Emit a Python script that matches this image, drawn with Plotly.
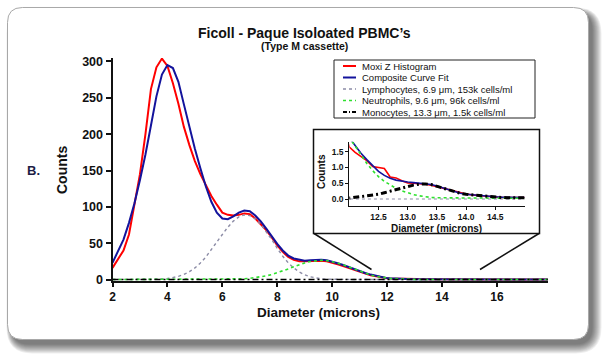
import plotly.graph_objects as go

W, H = 610, 360
FONT = "Liberation Sans, Arial, sans-serif"

# ---------------- data ----------------
diameter = [2.0, 2.2, 2.4, 2.6, 2.8, 3.0, 3.2, 3.4, 3.6, 3.8,
            4.0, 4.2, 4.4, 4.6, 4.8, 5.0, 5.2, 5.4, 5.6, 5.8,
            6.0, 6.2, 6.4, 6.6, 6.8, 7.0, 7.2, 7.4, 7.6, 7.8,
            8.0, 8.2, 8.4, 8.6, 8.8, 9.0, 9.2, 9.4, 9.6, 9.8,
            10.0, 10.2, 10.4, 10.6, 10.8, 11.0, 11.2, 11.4, 11.6, 11.8,
            12.0,
            12.1, 12.2, 12.3, 12.4, 12.5, 12.6, 12.7, 12.8, 12.9, 13.0,
            13.1, 13.2, 13.3, 13.4, 13.5, 13.6, 13.7, 13.8, 13.9, 14.0,
            14.1, 14.2, 14.3, 14.4, 14.5, 14.6, 14.7, 14.8, 14.9, 15.0,
            15.5, 16.0, 16.5, 17.0, 17.5, 17.85]

moxi_histogram = [16, 28, 40, 62, 105, 145, 200, 262, 292, 304,
                  294, 270, 242, 210, 185, 163, 145, 129, 115, 103,
                  92, 89, 88, 89, 91, 90, 84, 76, 68, 58,
                  47, 38, 31, 27, 25, 25, 25.5, 26, 26, 25,
                  23.5, 21, 18.5, 16, 13, 10, 8, 6, 4.5, 2.8,
                  1.65,
                  1.48, 1.34, 1.22, 1.03, 0.99, 0.97, 0.70, 0.67, 0.58, 0.51,
                  0.50, 0.49, 0.47, 0.44, 0.39, 0.34, 0.29, 0.24, 0.19, 0.16,
                  0.13, 0.11, 0.09, 0.07, 0.06, 0.05, 0.05, 0.04, 0.04, 0.04,
                  0.03, 0.02, 0.02, 0.01, 0.01, 0.01]

composite_fit = [23, 38, 55, 78, 105, 137, 172, 212, 252, 282,
                 295, 291, 272, 241, 210, 180, 153, 128, 107, 92,
                 84, 83, 87, 92, 95, 94, 88, 80, 70, 59,
                 49, 40, 33, 29, 27, 26, 26.5, 27, 27.3, 26.5,
                 25, 22.5, 20, 17, 14, 11.4, 9, 6.8, 5, 3.3,
                 1.95,
                 1.70, 1.45, 1.25, 1.06, 0.88, 0.75, 0.66, 0.60, 0.56, 0.54,
                 0.52, 0.50, 0.48, 0.46, 0.41, 0.35, 0.29, 0.23, 0.18, 0.15,
                 0.13, 0.11, 0.10, 0.08, 0.07, 0.06, 0.05, 0.05, 0.04, 0.04,
                 0.03, 0.02, 0.01, 0.01, 0.01, 0.01]

lymphocytes = [0, 0, 0, 0, 0, 0, 0.05, 0.1, 0.3, 0.7,
               1.4, 2.5, 4.3, 7, 10.8, 16, 22.8, 31, 40.8, 51.3,
               62, 72, 80.4, 86.2, 88.9, 88, 83.5, 76, 66, 55,
               43, 32, 23, 16, 10.5, 6.5, 3.8, 2.0, 1.0, 0.5,
               0.25, 0.1, 0.05, 0.02, 0.01, 0, 0, 0, 0, 0,
               0,
               0, 0, 0, 0, 0, 0, 0, 0, 0, 0,
               0, 0, 0, 0, 0, 0, 0, 0, 0, 0,
               0, 0, 0, 0, 0, 0, 0, 0, 0, 0,
               0, 0, 0, 0, 0, 0]

neutrophils = [0, 0, 0, 0, 0, 0, 0, 0, 0, 0,
               0, 0, 0, 0, 0, 0, 0, 0.05, 0.1, 0.15,
               0.2, 0.3, 0.4, 0.64, 1.0, 1.6, 2.5, 3.6, 5.1, 6.9,
               9.2, 11.8, 14.6, 17.5, 20.3, 22.8, 24.8, 26.1, 26.5, 26.1,
               24.8, 22.8, 20.3, 17.5, 14.6, 11.4, 8.7, 6.3, 4.4, 3.0,
               1.95,
               1.68, 1.40, 1.13, 0.90, 0.71, 0.56, 0.44, 0.34, 0.26, 0.19,
               0.14, 0.10, 0.07, 0.05, 0.04, 0.035, 0.03, 0.03, 0.03, 0.03,
               0.03, 0.03, 0.03, 0.03, 0.03, 0.03, 0.03, 0.03, 0.03, 0.03,
               0.02, 0.01, 0.01, 0, 0, 0]

monocytes = [0, 0, 0, 0, 0, 0, 0, 0, 0, 0,
             0, 0, 0, 0, 0, 0, 0, 0, 0, 0,
             0, 0, 0, 0, 0, 0, 0, 0, 0, 0,
             0, 0, 0, 0, 0, 0, 0, 0, 0, 0,
             0, 0, 0, 0, 0, 0.002, 0.004, 0.007, 0.012, 0.02,
             0.03,
             0.05, 0.07, 0.09, 0.12, 0.15, 0.20, 0.25, 0.30, 0.35, 0.40,
             0.44, 0.47, 0.48, 0.46, 0.40, 0.34, 0.29, 0.23, 0.18, 0.15,
             0.13, 0.11, 0.09, 0.07, 0.06, 0.05, 0.04, 0.035, 0.03, 0.03,
             0.01, 0.005, 0, 0, 0, 0]

legend_labels = ["Moxi Z Histogram",
                 "Composite Curve Fit",
                 "Lymphocytes, 6.9 \u03bcm, 153k cells/ml",
                 "Neutrophils, 9.6 \u03bcm, 96k cells/ml",
                 "Monocytes, 13.3 \u03bcm, 1.5k cells/ml"]

main_xticks = [2, 4, 6, 8, 10, 12, 14, 16]
main_yticks = [0, 50, 100, 150, 200, 250, 300]
inset_xticks = [12.5, 13.0, 13.5, 14.0, 14.5]
inset_yticks = [0.0, 0.5, 1.0, 1.5]

# ---------------- styles ----------------
RED = "#ff0000"
BLUE = "#13139c"
GRAY = "#8c8ca6"
GREEN = "#2ee02e"
BLACK = "#000000"

series = [
    (moxi_histogram, RED, "solid", 2.0, 1.6),
    (composite_fit, BLUE, "solid", 2.0, 1.6),
    (lymphocytes, GRAY, "3px,3px", 1.4, 1.2),
    (neutrophils, GREEN, "dot", 1.6, 1.6),
    (monocytes, BLACK, "6px,3px,2px,3px", 1.4, 3.0),
]


def fx(px):
    return px / W


def fy(py):
    return 1 - py / H


fig = go.Figure()
for (vals, col, dash, wmain, winset), name in zip(series, legend_labels):
    fig.add_trace(go.Scatter(x=diameter, y=vals, mode="lines", name=name,
                             line=dict(color=col, dash=dash, width=wmain),
                             xaxis="x", yaxis="y", showlegend=False,
                             hoverinfo="skip"))
for (vals, col, dash, wmain, winset), name in zip(series, legend_labels):
    fig.add_trace(go.Scatter(x=diameter, y=vals, mode="lines", name=name,
                             line=dict(color=col, dash=dash, width=winset),
                             xaxis="x2", yaxis="y2", showlegend=False,
                             hoverinfo="skip"))

# ---------------- shapes ----------------
shapes = []


def rrect_path(x0, y0, x1, y1, r):
    pts = [
        ("M", [(x0 + r, y0)]),
        ("L", [(x1 - r, y0)]),
        ("Q", [(x1, y0), (x1, y0 + r)]),
        ("L", [(x1, y1 - r)]),
        ("Q", [(x1, y1), (x1 - r, y1)]),
        ("L", [(x0 + r, y1)]),
        ("Q", [(x0, y1), (x0, y1 - r)]),
        ("L", [(x0, y0 + r)]),
        ("Q", [(x0, y0), (x0 + r, y0)]),
    ]
    s = ""
    for cmd, ps in pts:
        s += cmd + " " + " ".join(f"{fx(a):.5f},{fy(b):.5f}" for a, b in ps) + " "
    return s + "Z"


# drop shadow (layered soft rectangles)
for i in range(10):
    sp = 10 - i
    shapes.append(dict(type="path", xref="paper", yref="paper", layer="below",
                       path=rrect_path(7.5 + 5 - sp * 0.6, 7.5 + 6 - sp * 0.6,
                                       588.5 + 3 + sp, 339.5 + 4 + sp, 16 + sp),
                       fillcolor="rgba(0,0,0,0.065)", line=dict(width=0)))
# card
shapes.append(dict(type="path", xref="paper", yref="paper", layer="below",
                   path=rrect_path(7.5, 7.5, 588.5, 339.5, 15),
                   fillcolor="white", line=dict(color="#a8a8a8", width=1)))

# legend box
shapes.append(dict(type="rect", xref="paper", yref="paper", layer="below",
                   x0=fx(334), x1=fx(535), y0=fy(118), y1=fy(60),
                   fillcolor="white", line=dict(color="#222222", width=1)))
legend_rows = [66, 77.5, 89, 100.5, 112]
for (vals, col, dash, wmain, winset), row in zip(series, legend_rows):
    shapes.append(dict(type="line", xref="paper", yref="paper", layer="above",
                       x0=fx(343), x1=fx(356), y0=fy(row), y1=fy(row),
                       line=dict(color=col, dash=dash if dash != "6px,3px,2px,3px" else "4px,2px,1px,2px",
                                 width=2 if col in (RED, BLUE, BLACK) else 1.3)))

# inset box
shapes.append(dict(type="rect", xref="paper", yref="paper", layer="below",
                   x0=fx(313.5), x1=fx(539.5), y0=fy(233.5), y1=fy(129.5),
                   fillcolor="white", line=dict(color="#111111", width=1.5)))
# callout lines
shapes.append(dict(type="line", xref="paper", yref="paper", layer="above",
                   x0=fx(314), y0=fy(233.5), x1=fx(371.5), y1=fy(269.5),
                   line=dict(color="#111111", width=1.5)))
shapes.append(dict(type="line", xref="paper", yref="paper", layer="above",
                   x0=fx(539), y0=fy(233.5), x1=fx(480), y1=fy(269.5),
                   line=dict(color="#111111", width=1.5)))

# ---------------- annotations ----------------
ann = []


def text(px, py, s, size, bold=True, rot=0, xanchor="center", color="#111111"):
    ann.append(dict(x=fx(px), y=fy(py), xref="paper", yref="paper", text=s,
                    showarrow=False, textangle=rot, xanchor=xanchor, yanchor="middle",
                    font=dict(family=FONT, size=size, color=color,
                              weight="bold" if bold else "normal")))


text(304, 33, "Ficoll - Paque Isoloated PBMC\u2019s", 14)
text(304, 46.5, "(Type M cassette)", 10.5)
text(318, 312, "Diameter (microns)", 13.5)
text(62, 170, "Counts", 14, rot=-90)
text(33, 170, "B.", 13, color="#1c1c44")
text(321, 172, "Counts", 10, rot=-90)
text(436, 228, "Diameter (microns)", 10)
for lab, row in zip(legend_labels, legend_rows):
    text(360, row, lab, 9.5, bold=False, xanchor="left")

# ---------------- layout ----------------
axis_common = dict(showgrid=False, zeroline=False, showline=True, linecolor="#111111",
                   ticks="outside", tickcolor="#111111", mirror=False, automargin=False)

fig.update_layout(
    template="none",
    width=W, height=H,
    margin=dict(l=0, r=0, t=0, b=0, pad=0),
    paper_bgcolor="white", plot_bgcolor="rgba(0,0,0,0)",
    showlegend=False,
    shapes=shapes, annotations=ann,
    font=dict(family=FONT, color="#111111"),
    xaxis=dict(**axis_common, domain=[fx(112.5), fx(548)], range=[2, 17.86],
               tickvals=main_xticks, ticktext=[str(v) for v in main_xticks],
               linewidth=2, ticklen=4, tickwidth=1.5,
               tickfont=dict(family=FONT, size=12, weight="bold")),
    yaxis=dict(**axis_common, domain=[fy(281), fy(58)], range=[-2, 304.8],
               tickvals=main_yticks, ticktext=[str(v) for v in main_yticks],
               linewidth=2, ticklen=5, tickwidth=1.5,
               tickfont=dict(family=FONT, size=12.5, weight="bold")),
    xaxis2=dict(**axis_common, domain=[fx(349.3), fx(524.5)], range=[12.0, 15.0],
                anchor="y2", tickvals=inset_xticks,
                ticktext=[f"{v:.1f}" for v in inset_xticks],
                linewidth=1.2, ticklen=3, tickwidth=1,
                tickfont=dict(family=FONT, size=8.5, weight="bold")),
    yaxis2=dict(**axis_common, domain=[fy(206), fy(141.7)], range=[-0.222, 1.819],
                anchor="x2", tickvals=inset_yticks,
                ticktext=[f"{v:.1f}" for v in inset_yticks],
                linewidth=1.2, ticklen=3, tickwidth=1,
                tickfont=dict(family=FONT, size=8.5, weight="bold")),
)

fig.write_html("out.html", config={"displayModeBar": False},
               post_script="document.body.style.margin='0';document.body.style.overflow='hidden';")
